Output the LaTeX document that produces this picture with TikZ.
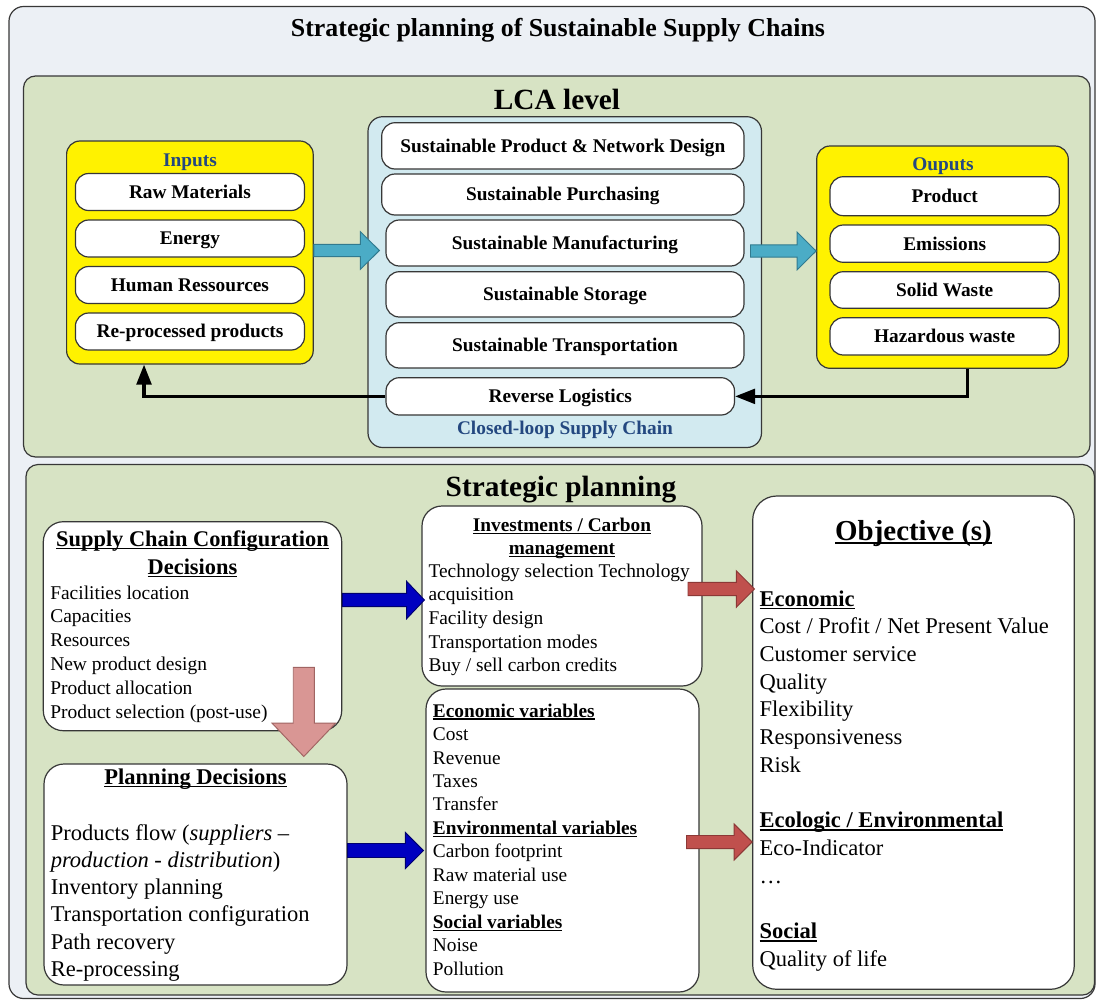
\documentclass[tikz,border=0pt]{standalone}
\usepackage{fontspec}
\setmainfont{Liberation Serif}
\usetikzlibrary{fit,calc,arrows.meta}
\definecolor{outerbg}{RGB}{236,240,245}
\definecolor{panelbg}{RGB}{215,227,196}
\definecolor{clbg}{RGB}{210,234,240}
\definecolor{lblue}{RGB}{36,72,128}
\definecolor{edge}{RGB}{55,55,55}
\definecolor{tealA}{RGB}{75,172,198}
\definecolor{tealB}{RGB}{49,122,143}
\definecolor{blueA}{RGB}{0,0,192}
\definecolor{blueB}{RGB}{0,0,110}
\definecolor{redA}{RGB}{192,80,77}
\definecolor{redB}{RGB}{140,56,54}
\definecolor{pinkA}{RGB}{217,150,148}
\definecolor{pinkB}{RGB}{160,100,98}
\newsavebox\ulbox
\newcommand\myul[1]{\leavevmode\sbox\ulbox{#1}\rlap{\rule[-0.15em]{\wd\ulbox}{0.075em}}\usebox\ulbox}
\newcommand\fTitle{\fontsize{19.4pt}{23pt}\selectfont\bfseries}
\newcommand\fHead{\fontsize{22pt}{26pt}\selectfont\bfseries}
\newcommand\fBox{\fontsize{14.5pt}{17.5pt}\selectfont\bfseries}
\newcommand\blkR[6]{\path[#1] let \p1=#2, \p2=#3 in (\x1,\y1+#4) -- (\x2-#6,\y1+#4) -- (\x2-#6,\y1+#5) -- (\x2,\y1) -- (\x2-#6,\y1-#5) -- (\x2-#6,\y1-#4) -- (\x1,\y1-#4) -- cycle;}
\newcommand\blkD[6]{\path[#1] let \p1=#2, \p2=#3 in (\x1-#4,\y1) -- (\x1-#4,\y2+#6) -- (\x1-#5,\y2+#6) -- (\x1,\y2) -- (\x1+#5,\y2+#6) -- (\x1+#4,\y2+#6) -- (\x1+#4,\y1) -- cycle;}
\begin{document}
\begin{tikzpicture}[x=0.75pt,y=-0.75pt,
  outer/.style={draw=edge, fill=outerbg, line width=0.9pt, rounded corners=11pt, inner sep=0pt},
  panel/.style={draw=edge, fill=panelbg, line width=0.9pt, rounded corners=9pt, inner sep=0pt},
  clbox/.style={draw=edge, fill=clbg, line width=0.9pt, rounded corners=11pt, inner sep=0pt},
  ybox/.style={draw=edge, fill=yellow, line width=0.9pt, rounded corners=10pt, inner sep=0pt},
  wbox/.style={draw=edge, fill=white, line width=0.9pt, rounded corners=10pt, inner sep=0pt},
  wlbl/.style={font=\fBox, text height=9.6pt, text depth=0pt, inner sep=0pt},
  tbox/.style={draw=edge, fill=white, line width=0.9pt, rounded corners=15pt, inner sep=0pt},
  lbl/.style={inner sep=0pt, anchor=base},
  txt/.style={inner sep=0pt, anchor=base west},
  tealarr/.style={fill=tealA, draw=tealB, line width=0.7pt},
  bluearr/.style={fill=blueA, draw=blueB, line width=0.7pt},
  redarr/.style={fill=redA, draw=redB, line width=0.7pt},
  pinkarr/.style={fill=pinkA, draw=pinkB, line width=0.7pt},
  blkline/.style={draw=black, line width=2.5pt, -{Triangle[length=15pt,width=11pt]}}
]
\useasboundingbox (0,0) rectangle (1098,1000);
% outer frame
\node[outer, fit={(9,6.5)(1095,998.5)}] (outer) {};
\node[lbl, font=\fTitle] (title) at (558,36.7) {Strategic planning of Sustainable Supply Chains};

% ---------------- LCA level
\node[panel, fit={(23.5,76)(1090,457)}] (lca) {};
\node[lbl, font=\fHead] (lcat) at (557,109.3) {LCA level};

\node[clbox, fit={(368,116.7)(761.5,447.5)}] (cl) {};
\node[wbox, fit={(381.7,122.7)(744,169)}, label={[wlbl]center:Sustainable Product \& Network Design}] (m1) {};
\node[wbox, fit={(381.7,174)(744,215)}, label={[wlbl]center:Sustainable Purchasing}] (m2) {};
\node[wbox, fit={(386,220)(744,266)}, label={[wlbl]center:Sustainable Manufacturing}] (m3) {};
\node[wbox, fit={(386,271.7)(744,317)}, label={[wlbl]center:Sustainable Storage}] (m4) {};
\node[wbox, fit={(386,322.7)(744,368)}, label={[wlbl]center:Sustainable Transportation}] (m5) {};
\node[wbox, fit={(386,377.7)(734.5,415)}, label={[wlbl]center:Reverse Logistics}] (rl) {};
\node[lbl, font=\fBox, text=lblue] (clt) at (565,434) {Closed-loop Supply Chain};

\node[ybox, fit={(66.6,141)(313.2,364)}] (inbox) {};
\node[lbl, font=\fBox, text=lblue] (inl) at (190,166) {Inputs};
\node[wbox, fit={(75.4,173.5)(304.5,210.5)}, label={[wlbl]center:Raw Materials}] (in1) {};
\node[wbox, fit={(75.4,220)(304.5,257)}, label={[wlbl]center:Energy}] (in2) {};
\node[wbox, fit={(75.4,266.5)(304.5,303.5)}, label={[wlbl]center:Human Ressources}] (in3) {};
\node[wbox, fit={(75.4,313)(304.5,350)}, label={[wlbl]center:Re-processed products}] (in4) {};

\node[ybox, fit={(816.7,146)(1068.3,368.3)}] (outbox) {};
\node[lbl, font=\fBox, text=lblue] (outl) at (943,170) {Ouputs};
\node[wbox, fit={(830,176.7)(1059.3,215.7)}, label={[wlbl]center:Product}] (o1) {};
\node[wbox, fit={(830,225)(1059.3,262.3)}, label={[wlbl]center:Emissions}] (o2) {};
\node[wbox, fit={(830,271.7)(1059.3,308.3)}, label={[wlbl]center:Solid Waste}] (o3) {};
\node[wbox, fit={(830,317.7)(1059.3,355)}, label={[wlbl]center:Hazardous waste}] (o4) {};

\coordinate (t2s) at (750.5,251);
\blkR{tealarr}{(inbox.east |- 0,250.5)}{([xshift=9pt]cl.west)}{4.65pt}{14.1pt}{14.25pt}
\blkR{tealarr}{(t2s)}{(outbox.west)}{4.65pt}{14.1pt}{14.25pt}

\draw[blkline] (rl.west) -| ([xshift=-34.4pt]inbox.south);
\draw[blkline] ([xshift=18.9pt]outbox.south) |- (rl.east);

% ---------------- Strategic planning
\node[panel, fit={(26,464.5)(1094.5,995)}] (sp) {};
\node[lbl, font=\fHead] (spt) at (561,496.5) {Strategic planning};

\node[tbox, fit={(43.3,521.7)(341.7,730.7)}] (sccd) {};
\node[lbl] (sccdt) at (192.5,546) {\parbox[t]{290pt}{\centering\fontsize{16.8pt}{21pt}\selectfont\bfseries
  \myul{Supply Chain Configuration}\\ \myul{Decisions}}};
\node[txt] (sccdl) at (50,599) {\parbox[t]{215pt}{\fontsize{14.6pt}{17.85pt}\selectfont
  Facilities location\\ Capacities\\ Resources\\ New product design\\ Product allocation\\ Product selection (post-use)}};

\node[tbox, fit={(422,506)(702,686)}] (inv) {};
\node[lbl] (invt) at (562,531.5) {\parbox[t]{205pt}{\centering\fontsize{14.5pt}{17.25pt}\selectfont\bfseries
  \myul{Investments / Carbon}\\ \myul{management}}};
\node[txt] (invl) at (428.3,577) {\parbox[t]{205pt}{\fontsize{14.55pt}{17.75pt}\selectfont
  Technology selection Technology\\ acquisition\\ Facility design\\ Transportation modes\\ Buy / sell carbon credits}};

\node[tbox, fit={(426,689)(699,992)}] (econ) {};
\node[txt] (econl) at (432.7,717) {\parbox[t]{200pt}{\fontsize{14.5pt}{17.62pt}\selectfont
  \textbf{\myul{Economic variables}}\\ Cost\\ Revenue\\ Taxes\\ Transfer\\
  \textbf{\myul{Environmental variables}}\\ Carbon footprint\\ Raw material use\\ Energy use\\
  \textbf{\myul{Social variables}}\\ Noise\\ Pollution}};

\node[tbox, rounded corners=18pt, fit={(752.7,496)(1074.3,989.3)}] (obj) {};
\node[lbl, font=\fontsize{21.7pt}{26pt}\selectfont\bfseries] (objt) at (913.5,540) {\myul{Objective (s)}};
\node[txt] (objl) at (759.3,606) {\parbox[t]{235pt}{\fontsize{16.9pt}{20.78pt}\selectfont
  \textbf{\myul{Economic}}\\ Cost / Profit / Net Present Value\\ Customer service\\ Quality\\ Flexibility\\ Responsiveness\\ Risk\\ \mbox{}\\
  \textbf{\myul{Ecologic / Environmental}}\\ Eco-Indicator\\ …\\ \mbox{}\\
  \textbf{\myul{Social}}\\ Quality of life}};

\node[tbox, fit={(44,764)(347,985)}] (plan) {};
\node[lbl, font=\fontsize{16.9pt}{20pt}\selectfont\bfseries] (plant) at (195.5,784) {\myul{Planning Decisions}};
\node[txt] (planl) at (50.5,840) {\parbox[t]{220pt}{\fontsize{16.9pt}{20.45pt}\selectfont
  Products flow (\textit{suppliers –}\\ \textit{production - distribution})\\ Inventory planning\\ Transportation configuration\\ Path recovery\\ Re-processing}};

% block arrows
\coordinate (pks) at (303.8,667.3);
\coordinate (pke) at (303.8,756.5);
\coordinate (r1s) at (688,589);
\coordinate (r2s) at (686.5,842);
\blkD{pinkarr}{(pks)}{(pke)}{7.9pt}{23.8pt}{25pt}
\blkR{bluearr}{(sccd.east |- 0,600)}{([xshift=2.25pt]inv.west)}{5pt}{14pt}{13.3pt}
\blkR{bluearr}{(plan.east |- 0,850.5)}{([xshift=-1.5pt]econ.west)}{5.25pt}{13.5pt}{13.5pt}
\blkR{redarr}{(r1s)}{([xshift=1.7pt]obj.west)}{5pt}{13.65pt}{13.5pt}
\blkR{redarr}{(r2s)}{(obj.west)}{4.9pt}{13.5pt}{13.5pt}
\end{tikzpicture}
\end{document}
